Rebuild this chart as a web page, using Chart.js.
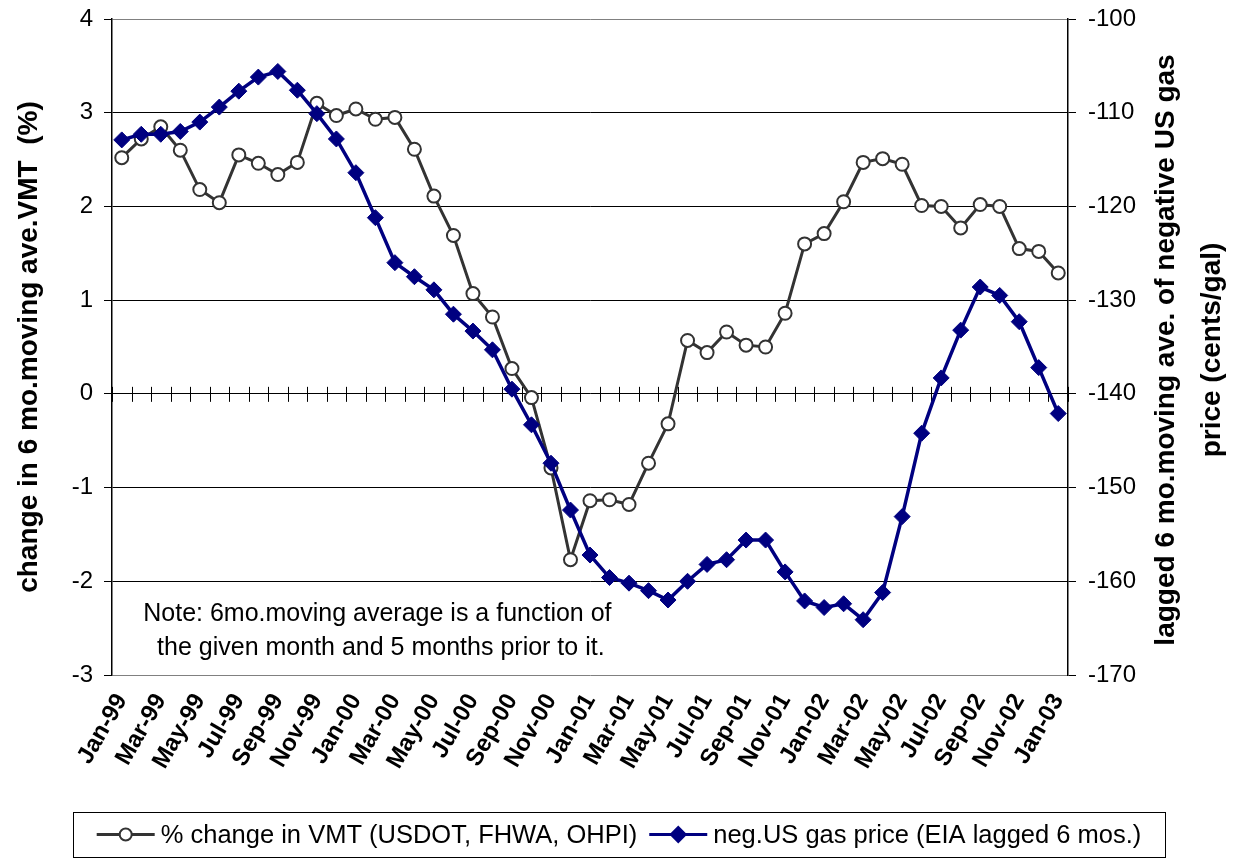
<!DOCTYPE html>
<html>
<head>
<meta charset="utf-8">
<title>VMT change vs. gas price</title>
<script src="https://cdn.jsdelivr.net/npm/chart.js@4.4.1/dist/chart.umd.min.js"></script>
<style>
  html, body { margin: 0; padding: 0; background: #fff; }
  #wrap { width: 1235px; height: 859px; }
</style>
</head>
<body>
<div id="wrap"><canvas id="chart" width="1235" height="859"></canvas></div>
<script>
// monthly categories, Jan-99 .. Jan-03
const months = [
    'Jan-99', 'Feb-99', 'Mar-99', 'Apr-99', 'May-99', 'Jun-99', 'Jul-99', 'Aug-99', 'Sep-99', 'Oct-99', 'Nov-99', 'Dec-99',
    'Jan-00', 'Feb-00', 'Mar-00', 'Apr-00', 'May-00', 'Jun-00', 'Jul-00', 'Aug-00', 'Sep-00', 'Oct-00', 'Nov-00', 'Dec-00',
    'Jan-01', 'Feb-01', 'Mar-01', 'Apr-01', 'May-01', 'Jun-01', 'Jul-01', 'Aug-01', 'Sep-01', 'Oct-01', 'Nov-01', 'Dec-01',
    'Jan-02', 'Feb-02', 'Mar-02', 'Apr-02', 'May-02', 'Jun-02', 'Jul-02', 'Aug-02', 'Sep-02', 'Oct-02', 'Nov-02', 'Dec-02',
    'Jan-03'
];

// % change in 6 mo. moving average VMT (left axis)
const vmtChange = [
    2.52, 2.72, 2.85, 2.60, 2.18, 2.04, 2.55, 2.46, 2.34, 2.47, 3.10, 2.97,
    3.04, 2.93, 2.95, 2.61, 2.11, 1.69, 1.07, 0.82, 0.27, -0.04, -0.79, -1.77,
    -1.14, -1.13, -1.18, -0.74, -0.32, 0.57, 0.44, 0.66, 0.52, 0.50, 0.86, 1.60,
    1.71, 2.05, 2.47, 2.51, 2.45, 2.01, 2.00, 1.77, 2.02, 2.00, 1.55, 1.52,
    1.29
];

// negative US gas price, lagged 6 mo. moving average, cents/gal (right axis)
const gasPriceNeg = [
    -112.9, -112.3, -112.3, -112.0, -111.0, -109.4, -107.7, -106.2, -105.6, -107.6, -110.1, -112.8,
    -116.4, -121.2, -126.0, -127.5, -128.9, -131.5, -133.3, -135.3, -139.5, -143.3, -147.4, -152.4,
    -157.2, -159.6, -160.2, -161.0, -162.0, -160.0, -158.2, -157.7, -155.6, -155.6, -159.0, -162.1,
    -162.8, -162.4, -164.1, -161.2, -153.1, -144.2, -138.3, -133.2, -128.6, -129.5, -132.3, -137.2,
    -142.1
];

const leftRange = [-3, 4];
const rightRange = [-170, -100];

const vmtLabel = '% change in VMT (USDOT, FHWA, OHPI)';
const gasLabel = 'neg.US gas price (EIA lagged 6 mos.)';
const leftTitle = 'change in 6 mo.moving ave.VMT  (%)';
const rightTitle = ['lagged 6 mo.moving ave. of negative US gas', 'price (cents/gal)'];
const noteLines = ['Note: 6mo.moving average is a function of', ' the given month and 5 months prior to it.'];

const FONT = '"Liberation Sans", Arial, sans-serif';
const vmtColor = '#333333';
const gasColor = '#000080';

Chart.defaults.font.family = FONT;
Chart.defaults.color = '#000';

// tick marks crossing the zero line at every category boundary
const zeroTicks = {
    id: 'zeroTicks',
    beforeDatasetsDraw(chart) {
        const x = chart.scales.x, y = chart.scales.y;
        const ctx = chart.ctx;
        const y0 = y.getPixelForValue(0);
        ctx.save();
        ctx.strokeStyle = '#000';
        ctx.lineWidth = 1;
        ctx.beginPath();
        for (let i = 0; i <= months.length; i++) {
            const px = Math.round(x.getPixelForValue(i - 0.5)) + 0.5;
            ctx.moveTo(px, y0 - 7);
            ctx.lineTo(px, y0 + 8);
        }
        ctx.stroke();
        ctx.restore();
    }
};

// note text, right axis title and boxed legend
const extras = {
    id: 'extras',
    afterDraw(chart) {
        const ctx = chart.ctx;
        const area = chart.chartArea;
        const x = chart.scales.x, y = chart.scales.y;
        ctx.save();

        // note
        ctx.font = '25px ' + FONT;
        ctx.fillStyle = '#000';
        ctx.textAlign = 'center';
        ctx.textBaseline = 'middle';
        const nx = x.getPixelForValue(13) + 2;
        const ny = y.getPixelForValue(-2.35);
        noteLines.forEach((t, i) => ctx.fillText(t, nx, ny + i * 34));

        // right title, reading bottom to top
        ctx.font = 'bold 28px ' + FONT;
        const cy = (area.top + area.bottom) / 2 + 3;
        [1166, 1212].forEach((tx, i) => {
            ctx.save();
            ctx.translate(tx, cy);
            ctx.rotate(-Math.PI / 2);
            ctx.fillText(rightTitle[i], 0, 0);
            ctx.restore();
        });

        // legend
        ctx.font = '25.5px ' + FONT;
        ctx.textAlign = 'left';
        const sample = 58, gap = 6, between = 12;
        const w1 = ctx.measureText(vmtLabel).width;
        const w2 = ctx.measureText(gasLabel).width;
        const total = sample + gap + w1 + between + sample + gap + w2;
        const boxLeft = 73, boxRight = 1165, boxTop = 812, boxBottom = 857;
        ctx.strokeStyle = '#000';
        ctx.lineWidth = 1;
        ctx.strokeRect(boxLeft + 0.5, boxTop + 0.5, boxRight - boxLeft, boxBottom - boxTop);
        let lx = (boxLeft + boxRight) / 2 - total / 2;
        const ly = (boxTop + boxBottom) / 2;
        const items = [
            { label: vmtLabel, color: vmtColor, style: 'circle', fill: '#fff', r: 6, w: w1 },
            { label: gasLabel, color: gasColor, style: 'rectRot', fill: gasColor, r: 7.5, w: w2 }
        ];
        items.forEach(it => {
            ctx.strokeStyle = it.color;
            ctx.lineWidth = 3;
            ctx.beginPath();
            ctx.moveTo(lx, ly);
            ctx.lineTo(lx + sample, ly);
            ctx.stroke();
            ctx.fillStyle = it.fill;
            ctx.lineWidth = 2;
            Chart.helpers.drawPoint(ctx, { pointStyle: it.style, radius: it.r, rotation: 0, borderWidth: 2 }, lx + sample / 2, ly);
            lx += sample + gap;
            ctx.fillStyle = '#000';
            ctx.fillText(it.label, lx, ly + 1);
            lx += it.w + between;
        });

        ctx.restore();
    }
};

// let the plot area reach the top edge set by layout padding
function trimPadding(scale) {
    scale.paddingTop = 0;
    scale.paddingBottom = 0;
}

const ctx = document.getElementById('chart').getContext('2d');
new Chart(ctx, {
    type: 'line',
    data: {
        labels: months,
        datasets: [
            {
                label: vmtLabel,
                data: vmtChange,
                yAxisID: 'y',
                order: 1,
                borderColor: vmtColor,
                borderWidth: 3,
                pointStyle: 'circle',
                pointRadius: 6.5,
                pointBorderWidth: 2,
                pointBackgroundColor: '#fff',
                pointBorderColor: vmtColor,
                tension: 0
            },
            {
                label: gasLabel,
                data: gasPriceNeg,
                yAxisID: 'y1',
                order: 0,
                borderColor: gasColor,
                borderWidth: 3.5,
                pointStyle: 'rectRot',
                pointRadius: 8,
                pointBorderWidth: 1,
                pointBackgroundColor: gasColor,
                pointBorderColor: gasColor,
                tension: 0
            }
        ]
    },
    options: {
        responsive: false,
        animation: false,
        layout: { padding: { top: 19, left: 0, right: 0, bottom: 0 } },
        plugins: {
            legend: { display: false },
            tooltip: { enabled: false }
        },
        scales: {
            x: {
                type: 'category',
                offset: true,
                afterFit(scale) { scale.height = 184; },
                grid: { display: false },
                border: { display: false },
                ticks: {
                    autoSkip: false,
                    maxRotation: 60,
                    minRotation: 60,
                    padding: 6,
                    font: { size: 24, weight: 'bold' },
                    callback(value, index) { return index % 2 === 0 ? months[index] : ''; }
                }
            },
            y: {
                position: 'left',
                min: leftRange[0],
                max: leftRange[1],
                afterFit(scale) { scale.width = 112; trimPadding(scale); },
                ticks: { stepSize: 1, padding: 11, font: { size: 24 } },
                grid: {
                    color: c => (c.tick.value === leftRange[0] || c.tick.value === leftRange[1]) ? '#808080' : '#000',
                    tickColor: '#000',
                    tickLength: 8,
                    lineWidth: 1
                },
                border: { display: true, color: '#000', width: 1.5 },
                title: {
                    display: true,
                    text: leftTitle,
                    font: { size: 28, weight: 'bold' },
                    padding: { top: 12, bottom: 0 }
                }
            },
            y1: {
                position: 'right',
                min: rightRange[0],
                max: rightRange[1],
                afterFit(scale) { scale.width = 167; trimPadding(scale); },
                ticks: { stepSize: 10, padding: 12, font: { size: 24 } },
                grid: { drawOnChartArea: false, tickColor: '#000', tickLength: 8 },
                border: { display: true, color: '#000', width: 1.5 }
            }
        }
    },
    plugins: [zeroTicks, extras]
});
</script>
</body>
</html>
